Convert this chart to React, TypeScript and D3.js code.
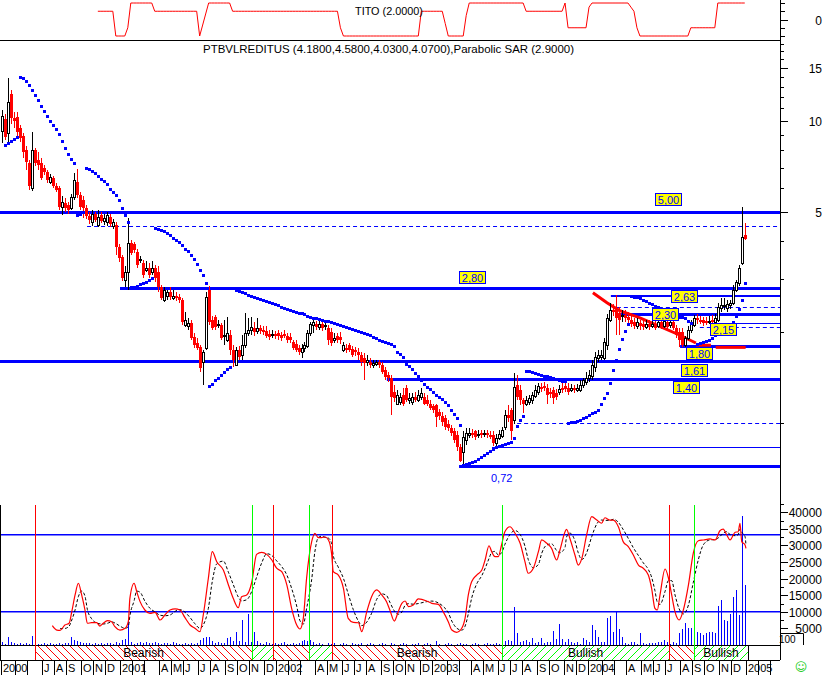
import React from 'react';
import * as d3 from 'd3';

// ---------- DATA (weekly, first bar = week of 31 Mar 2000) ----------
const opens = [
9.27,10.16,9.13,12.29,10.23,10.31,9.48,8.92,8.02,7.26,
6.01,8.02,7.43,7.26,6.99,6.78,6.28,6.48,6.10,6.01,
5.20,5.36,5.28,5.16,5.61,6.28,5.70,5.48,5.16,4.85,
4.63,4.92,4.53,4.89,4.67,4.63,4.81,4.49,4.53,3.83,
3.55,2.98,3.16,3.95,3.92,3.68,3.47,3.39,3.21,3.26,
3.16,3.26,3.16,2.81,2.55,2.64,2.72,2.60,2.64,2.62,
2.55,2.11,2.09,2.14,1.93,1.84,1.79,1.59,1.77,2.76,
2.19,2.25,2.11,2.11,1.94,1.88,1.96,1.745,1.56,1.745,
1.68,1.81,1.99,2.03,2.06,2.01,2.06,2.03,2.01,1.97,
1.96,1.97,1.99,1.96,1.97,1.94,1.93,1.86,1.83,1.77,
1.72,1.77,1.80,1.99,2.11,2.13,2.08,2.13,2.09,2.06,
2.00,1.88,1.94,1.93,1.745,1.77,1.81,1.76,1.745,1.72,
1.68,1.64,1.59,1.59,1.56,1.57,1.59,1.56,1.50,1.44,
1.41,1.27,1.16,1.17,1.24,1.31,1.19,1.17,1.22,1.19,
1.22,1.22,1.19,1.16,1.14,1.145,1.09,1.055,1.04,0.99,
0.96,0.94,0.91,0.83,0.80,0.88,0.91,0.93,0.94,0.91,
0.93,0.92,0.93,0.91,0.91,0.86,0.89,0.905,0.97,1.06,
1.10,1.02,1.34,1.29,1.19,1.16,1.17,1.19,1.23,1.27,
1.32,1.33,1.31,1.27,1.29,1.26,1.27,1.31,1.33,1.31,
1.29,1.31,1.29,1.29,1.34,1.37,1.41,1.43,1.53,1.64,
1.66,1.64,1.81,2.19,2.37,2.41,2.32,2.26,2.28,2.25,
2.19,2.16,2.09,2.14,2.13,2.08,2.13,2.09,2.13,2.09,
2.16,2.09,2.16,2.11,2.16,2.06,2.00,2.00,1.81,1.91,
2.03,2.11,2.23,2.19,2.19,2.18,2.16,2.19,2.16,2.19,
2.41,2.44,2.41,2.46,2.50,2.76,2.91,3.39,4.18];
const highs = [
10.88,10.55,13.88,12.67,10.72,10.72,9.71,9.13,8.26,7.43,
9.20,8.14,7.90,7.54,7.15,6.88,6.68,6.58,6.24,6.10,
5.65,5.57,5.40,5.74,6.73,6.95,5.82,5.65,5.28,5.00,
5.07,5.00,5.07,5.00,4.92,5.00,4.92,4.74,4.63,3.92,
3.60,3.31,4.78,4.04,3.98,3.77,3.58,3.47,3.44,3.39,
3.44,3.34,3.31,2.87,2.81,2.76,2.81,2.76,2.72,2.68,
2.60,2.33,2.23,2.19,1.99,1.91,1.81,1.745,2.72,2.85,
2.26,2.28,2.19,2.14,2.19,2.25,2.03,1.81,1.79,1.80,
1.96,2.32,2.23,2.25,2.16,2.23,2.11,2.09,2.09,2.03,
2.03,2.01,2.03,2.00,2.03,1.99,1.99,1.88,1.88,1.81,
1.83,1.86,2.03,2.16,2.23,2.18,2.19,2.18,2.19,2.11,
2.06,1.99,1.99,2.00,1.86,1.83,1.84,1.80,1.79,1.77,
1.72,1.71,1.68,1.64,1.62,1.62,1.62,1.59,1.53,1.47,
1.44,1.34,1.29,1.26,1.31,1.34,1.26,1.26,1.27,1.29,
1.31,1.26,1.24,1.19,1.16,1.16,1.11,1.09,1.06,1.02,
0.985,0.96,0.94,0.85,0.94,0.96,0.96,0.955,0.95,0.95,
0.95,0.95,0.95,0.94,0.94,0.92,0.95,0.97,1.10,1.145,
1.12,1.46,1.44,1.34,1.21,1.23,1.24,1.27,1.34,1.36,
1.36,1.37,1.35,1.31,1.32,1.30,1.34,1.39,1.36,1.36,
1.35,1.34,1.35,1.39,1.41,1.47,1.50,1.62,1.72,1.745,
1.745,1.91,2.30,2.50,2.48,2.66,2.42,2.37,2.37,2.33,
2.26,2.23,2.23,2.19,2.19,2.19,2.19,2.23,2.18,2.23,
2.21,2.25,2.23,2.28,2.23,2.11,2.06,2.06,1.94,2.09,
2.19,2.28,2.30,2.26,2.25,2.25,2.26,2.28,2.30,2.50,
2.60,2.60,2.55,2.55,2.87,2.98,3.34,5.20,4.58];
const lows = [
8.45,8.65,8.45,9.78,9.48,8.92,8.52,7.54,6.88,5.91,
5.87,7.10,6.88,6.38,6.63,6.24,6.19,6.01,5.82,5.07,
4.89,5.00,4.92,5.07,5.48,5.57,5.07,4.78,4.74,4.56,
4.49,4.63,4.46,4.60,4.53,4.49,4.46,4.39,3.60,3.42,
2.96,2.81,2.76,3.60,3.66,3.26,3.39,3.03,3.16,3.03,
3.09,2.94,2.72,2.55,2.51,2.55,2.55,2.55,2.53,2.50,
2.11,2.08,2.03,1.88,1.77,1.745,1.47,1.34,1.745,2.11,
2.03,2.03,2.06,1.88,1.81,1.86,1.68,1.53,1.54,1.62,
1.62,1.77,1.94,1.96,1.94,1.97,1.97,1.96,1.91,1.88,
1.91,1.90,1.88,1.87,1.91,1.84,1.84,1.745,1.72,1.68,
1.64,1.72,1.77,1.94,1.99,2.03,2.03,2.01,2.03,1.81,
1.80,1.84,1.84,1.83,1.72,1.71,1.72,1.66,1.67,1.62,
1.545,1.39,1.545,1.52,1.52,1.545,1.52,1.45,1.39,1.37,
1.06,1.17,1.145,1.145,1.14,1.17,1.16,1.15,1.17,1.17,
1.19,1.145,1.14,1.10,1.08,0.97,1.02,0.98,0.95,0.94,
0.905,0.86,0.81,0.74,0.72,0.845,0.89,0.89,0.88,0.89,
0.89,0.90,0.89,0.885,0.84,0.84,0.88,0.89,0.95,1.01,
0.88,0.99,1.19,1.145,1.08,1.14,1.145,1.16,1.21,1.24,
1.27,1.28,1.16,1.21,1.16,1.19,1.24,1.26,1.27,1.24,
1.27,1.26,1.27,1.27,1.31,1.34,1.37,1.39,1.47,1.59,
1.62,1.62,1.745,2.16,2.26,1.96,1.96,2.16,2.16,2.14,
2.08,2.05,2.05,2.03,2.03,2.05,2.03,2.06,2.03,2.06,
2.05,2.06,2.03,2.06,2.03,1.91,1.79,1.79,1.79,1.88,
1.99,2.08,2.13,2.13,2.09,2.11,2.13,2.14,2.13,2.16,
2.33,2.37,2.33,2.39,2.46,2.72,2.85,3.34,4.03];
const closes = [
10.39,8.86,11.56,10.23,10.00,9.20,8.79,7.90,7.32,6.10,
8.02,7.26,7.15,6.48,6.78,6.38,6.53,6.10,5.91,5.20,
5.40,5.16,5.07,5.61,6.38,5.70,5.20,5.16,4.85,4.70,
4.92,4.70,4.81,4.67,4.78,4.89,4.56,4.63,3.83,3.52,
3.03,3.16,3.95,3.66,3.74,3.34,3.50,3.09,3.26,3.09,
3.26,3.03,2.81,2.60,2.76,2.72,2.62,2.64,2.60,2.55,
2.16,2.19,2.14,1.91,1.81,1.77,1.52,1.72,2.62,2.16,
2.06,2.08,2.13,1.91,1.96,1.99,1.745,1.62,1.745,1.66,
1.81,1.99,2.03,2.08,2.00,2.06,2.01,2.00,1.94,1.93,
1.97,1.94,1.94,1.91,1.94,1.88,1.88,1.77,1.745,1.72,
1.77,1.81,1.99,2.13,2.16,2.08,2.13,2.06,2.11,1.88,
1.84,1.91,1.88,1.88,1.81,1.745,1.745,1.68,1.72,1.68,
1.59,1.58,1.62,1.56,1.58,1.59,1.56,1.47,1.42,1.41,
1.22,1.21,1.24,1.22,1.16,1.19,1.21,1.22,1.19,1.24,
1.26,1.16,1.16,1.12,1.10,1.05,1.055,1.01,0.97,0.96,
0.93,0.88,0.83,0.75,0.90,0.93,0.93,0.91,0.90,0.92,
0.91,0.93,0.91,0.905,0.86,0.89,0.92,0.95,1.06,1.04,
0.94,1.32,1.22,1.19,1.16,1.19,1.21,1.24,1.29,1.33,
1.31,1.31,1.24,1.25,1.21,1.22,1.30,1.29,1.30,1.27,
1.31,1.29,1.31,1.34,1.39,1.41,1.44,1.56,1.66,1.68,
1.68,1.86,2.23,2.37,2.33,2.23,2.19,2.28,2.23,2.19,
2.13,2.09,2.16,2.09,2.08,2.13,2.08,2.13,2.06,2.16,
2.09,2.18,2.08,2.16,2.06,1.96,1.88,1.81,1.91,2.03,
2.13,2.23,2.19,2.18,2.14,2.16,2.18,2.18,2.23,2.42,
2.46,2.45,2.48,2.50,2.76,2.94,3.26,4.13,4.07];
// Parabolic SAR as plotted, from week 1
const sarStartWeek = 1;
const sarValues = [
8.33,8.45,8.58,8.72,8.86,13.98,13.88,13.57,13.16,12.67,
12.20,11.74,11.21,10.80,10.39,10.00,9.71,9.41,9.06,8.58,
8.14,7.78,7.49,7.26,4.89,4.92,5.00,6.99,6.93,6.83,
6.73,6.58,6.43,6.33,6.19,5.96,5.82,5.70,5.48,5.16,
4.89,4.63,2.81,2.83,2.85,2.89,2.91,2.94,2.98,3.03,
4.43,4.39,4.36,4.33,4.27,4.20,4.10,4.04,3.98,3.89,
3.77,3.71,3.60,3.50,3.37,3.21,3.09,2.91,1.33,1.35,
1.39,1.41,1.44,1.47,1.51,1.53,2.79,2.76,2.74,2.72,
2.70,2.66,2.64,2.62,2.60,2.58,2.55,2.53,2.51,2.50,
2.48,2.46,2.42,2.41,2.39,2.37,2.35,2.33,2.32,2.32,
2.30,2.26,2.25,2.23,2.23,2.21,2.19,2.18,2.18,2.16,
2.14,2.13,2.11,2.09,2.08,2.06,2.05,2.03,2.01,2.00,
1.99,1.97,1.96,1.93,1.91,1.88,1.87,1.86,1.84,1.83,
1.80,1.72,1.69,1.66,1.57,1.545,1.51,1.46,1.43,1.39,
1.35,1.32,1.30,1.27,1.24,1.22,1.20,1.17,1.145,1.10,
1.07,1.04,0.985,0.726,0.73,0.737,0.743,0.748,0.76,0.77,
0.784,0.796,0.808,0.82,0.833,0.839,0.846,0.852,0.859,0.865,
0.892,0.977,1.02,1.055,1.49,1.49,1.47,1.46,1.45,1.44,
1.43,1.43,1.42,1.41,1.40,1.39,1.38,1.38,1.00,1.01,
1.01,1.015,1.02,1.04,1.05,1.06,1.08,1.09,1.10,1.155,
1.21,1.26,1.36,1.50,1.62,1.76,1.90,2.01,2.13,2.63,
2.62,2.62,2.60,2.55,2.53,2.50,2.48,2.44,2.42,2.39,
2.37,2.35,2.32,2.30,2.28,2.25,2.25,2.23,2.18,2.14,
1.80,1.83,1.84,1.86,1.87,1.88,1.91,1.96,2.01,2.08,
2.09,2.11,2.13,2.16,2.26,2.39,2.55,2.90];
const volumes = [
900,300,2400,900,600,300,600,300,600,300,
2700,600,300,300,600,300,600,300,300,600,
300,600,600,2400,1500,1200,900,600,600,600,
300,600,300,600,300,600,600,300,900,600,
1500,1800,7500,900,300,600,900,600,900,600,
600,900,600,300,600,600,300,900,600,300,
300,600,300,600,300,600,1500,2100,2400,2400,
1200,600,900,600,600,2100,2400,1200,3900,1200,
7500,900,9300,900,3900,1200,600,300,900,600,
300,600,300,600,900,300,300,600,300,600,
1200,1500,1200,1500,900,300,600,300,0,600,
300,600,0,300,600,300,0,600,300,300,
600,0,300,600,300,0,300,600,300,0,
600,300,0,300,600,300,0,300,300,600,
0,300,600,300,0,1200,300,0,300,600,
300,0,300,600,300,300,0,300,600,300,
0,300,600,300,300,600,300,1200,1200,1500,
1200,11400,3600,900,1200,1500,900,2100,600,900,
2100,600,900,900,4200,1800,6300,1800,900,1800,
900,600,900,300,2100,1500,900,6000,4500,2400,
900,900,8100,8700,3900,10200,4800,2400,600,300,
900,900,300,3600,600,300,600,600,600,900,
900,1500,900,300,900,600,3600,4800,6600,5100,
5100,5100,3900,3600,3000,3600,3900,3900,3600,11700,
13500,7500,7200,9300,14400,16500,9000,38800,18000];

// TITO indicator, run-length (first week 32)
const titoStartWeek = 32;
const titoRunValues = [1,-2,-1,2,1,-2,-0.67,0.67,2,1,-1,-2,1,-0.5,-2,0.5,2,1,2,-1,1.5,2,1.5,1,-1,-2,-1,2];
const titoRunLengths = [6,4,1,8,15,1,1,1,8,36,1,26,8,1,6,1,19,13,1,7,1,13,1,1,1,17,9,10];

// oscillator (%K) sampled along the weeks
const oscWeeks = [16.8,18.3,19.4,21.0,22.4,23.3,24.4,25.5,26.6,27.7,28.5,29.9,31.6,32.7,33.8,35.2,36.6,37.7,39.4,41.1,42.2,42.7,44.1,45.0,46.1,47.7,49.4,51.1,52.8,54.4,56.1,57.8,59.4,61.1,62.8,64.4,66.1,67.2,68.9,70.2,71.7,73.9,75.6,77.2,78.9,80.0,81.7,83.4,85.0,86.7,88.4,90.1,91.7,93.4,95.1,96.7,98.4,99.5,100.6,101.7,103.4,104.5,105.6,106.7,107.8,109.0,110.1,110.6,112.3,114.0,115.6,117.3,119.0,120.1,121.8,123.4,125.1,126.8,128.4,129.5,131.0,132.3,133.5,134.6,135.7,137.3,139.0,141.8,143.5,145.7,147.3,149.0,150.2,151.8,153.5,154.6,155.7,156.8,158.5,160.2,161.3,162.6,163.5,164.6,165.7,166.8,167.9,169.6,171.3,173.0,174.6,175.7,177.4,179.1,180.2,181.9,183.5,185.2,186.3,188.0,188.5,189.6,191.3,192.4,193.6,195.2,196.9,198.6,200.2,201.3,203.0,204.1,205.8,207.4,209.1,210.8,212.5,214.1,215.8,216.9,218.0,218.8,219.7,221.4,222.5,223.6,224.7,226.1,227.5,229.2,230.8,232.5,234.2,236.4,238.1,239.7,240.8,242.0,243.1,244.8,245.8,246.4,247.0,248.1,248.4];
const oscValues = [9.2,5.8,5.6,9.7,11.1,20.1,33.1,42.2,33.1,21.4,11.1,11.5,11.5,8.9,11.1,13.1,12.3,8.4,5.8,7.2,12.8,30.5,42.2,35.6,27.9,21.4,18.8,19.6,13.6,17.5,21.4,22.2,21.4,15.4,9.7,7.2,4.5,17.5,46.1,66.8,59.0,52.5,40.9,30.5,23.2,31.8,33.1,43.0,64.7,66.3,64.7,60.3,53.9,51.2,40.9,22.7,9.7,6.6,14.9,46.1,74.6,81.1,77.7,77.7,78.4,75.9,64.2,51.2,48.6,38.3,14.9,11.8,11.5,4.5,20.1,31.8,37.0,33.1,27.9,21.4,12.8,20.1,26.6,28.4,24.0,25.3,30.0,28.4,26.6,25.8,20.1,12.3,5.8,4.0,7.2,14.9,33.1,43.4,48.6,52.5,60.3,71.4,66.8,62.9,62.9,72.0,82.3,86.2,81.1,73.3,59.0,50.0,53.9,66.8,75.9,73.3,69.4,60.3,68.1,82.3,84.2,77.2,64.2,56.4,61.6,79.8,94.0,91.4,88.9,93.2,91.4,91.4,86.2,74.6,70.7,64.2,56.4,53.9,48.6,38.3,22.7,21.4,33.1,53.3,46.5,33.1,20.1,13.6,21.4,40.9,65.5,75.3,75.9,76.7,75.9,83.1,84.4,79.8,75.9,81.9,82.3,88.9,74.6,72.0,69.4];
const oscLevels = [80, 20];

// support / resistance levels
const levelValues = [5.00, 4.49, 2.80, 2.63, 2.42, 2.30, 2.15, 2.08, 1.80, 1.61, 1.40, 1.00, 0.83, 0.72];
const levelFromWeek = [-1, 28.4, 39.4, 203.3, 205.3, 204.7, 236.4, 233, 226.4, -1, 128.5, 172, 163.6, 152.6];
const levelKinds = ['thick','dash','thick','medium','dash','thick','thin','dash','thick','thick','thick','dash','thin','thick'];
const levelLabels = ['5,00','','2,80','2,63','','2,30','2,15','','1,80','1,61','1,40','','','0,72'];

// red trend line
const trendWeeks = [197.3, 202, 206, 213, 220, 226, 231.7];
const trendValues = [2.70, 2.50, 2.36, 2.23, 2.08, 1.96, 1.84];
const redStopWeeks = [[231.7, 236.7], [238.3, 248.3]];
const redStopValues = [1.81, 1.78];

// signals (band)
const signalWeeks = [11.0, 83.5, 90.5, 102.5, 110.2, 167.0, 222.7, 231.0];
const signalTypes = ['sell','buy','sell','buy','sell','buy','sell','buy'];
const signalEndWeek = 249.1;

const monthLetters = ['J','F','M','A','M','J','J','A','S','O','N','D'];
const titleText = 'PTBVLREDITUS (4.1800,4.5800,4.0300,4.0700),Parabolic SAR (2.9000)';
const titoText = 'TITO (2.0000)';

const FONT = 'Liberation Sans, Arial, Helvetica, sans-serif';
const RED = '#ff0000', BLUE = '#0000ff', GREEN = '#00ff00';
const AXIS_X = 780;

export default function App() {
  const x = d3.scaleLinear().domain([0, 1]).range([2, 2 + 2.995]);
  const yP = d3.scaleLog().domain([1, 10]).range([423, 121]);
  const yT = d3.scaleLinear().domain([-2, 2]).range([36, 3]);
  const yV = d3.scaleLinear().domain([0, 40000]).range([645, 512.2]);
  const yO = d3.scaleLinear().domain([0, 100]).range([637.5, 509]);

  const tito: [number, number][] = [];
  let w = titoStartWeek;
  titoRunValues.forEach((v, k) => { for (let j = 0; j < titoRunLengths[k]; j++) tito.push([w++, v]); });
  const titoLine = d3.line<[number, number]>().x(d => x(d[0])).y(d => yT(d[1]));

  const osc = oscWeeks.map((wk, k) => [wk, oscValues[k]] as [number, number]);
  const oscD: [number, number][] = [];
  for (let k = 2; k < osc.length; k++) oscD.push([osc[k][0], (osc[k][1] + osc[k - 1][1] + osc[k - 2][1]) / 3]);
  const oscLine = d3.line<[number, number]>().x(d => x(d[0])).y(d => yO(d[1])).curve(d3.curveMonotoneX);

  const trendLine = d3.line<number>().x((d, k) => x(trendWeeks[k])).y(d => yP(d));

  const date0 = new Date(2000, 2, 31).getTime();
  const ticks: { x: number; label: string }[] = [];
  let first = true;
  for (let yy = 2000; yy <= 2005; yy++) {
    for (let m = 0; m < 12; m++) {
      if (yy === 2000 && m < 3) continue;
      if (yy === 2005 && m > 2) break;
      const wk = Math.ceil((new Date(yy, m, 1).getTime() - date0) / (7 * 864e5));
      let tx = x(wk) - 1.5;
      let label = '';
      if (first) { tx = 1; label = '2000'; first = false; }
      else if (m === 0) label = String(yy);
      else if (m === 1 || m === 2) label = '';
      else if (yy === 2000 && m < 6) label = '';
      else label = monthLetters[m];
      ticks.push({ x: Math.round(tx) + 0.5, label });
    }
  }

  const segs = signalWeeks.map((s, k) => ({
    x0: x(s), x1: x(k + 1 < signalWeeks.length ? signalWeeks[k + 1] : signalEndWeek), type: signalTypes[k],
  }));

  const priceTicks = d3.range(1, 19);
  const volTicks = d3.range(2500, 42501, 2500);

  return (
    <svg width={827} height={675} style={{ position: 'absolute', left: 0, top: 0, background: '#fff' }} fontFamily={FONT}>
      <defs>
        <pattern id="hatchRed" patternUnits="userSpaceOnUse" width="8" height="8">
          <path d="M-2,-2 L10,10 M-10,-2 L2,10 M6,-2 L18,10" stroke={RED} strokeWidth="1" />
        </pattern>
        <pattern id="hatchGreen" patternUnits="userSpaceOnUse" width="8" height="8">
          <path d="M-2,10 L10,-2 M-10,10 L2,-2 M6,10 L18,-2" stroke={GREEN} strokeWidth="1" />
        </pattern>
        <clipPath id="clipMain"><rect x="0" y="41" width={AXIS_X} height="464" /></clipPath>
        <clipPath id="clipLow"><rect x="0" y="505" width={AXIS_X} height="140" /></clipPath>
        <clipPath id="clipTop"><rect x="0" y="0" width={AXIS_X} height="40" /></clipPath>
      </defs>
      <rect x="0" y="0" width="827" height="675" fill="#fff" />

      {/* ---- TITO panel ---- */}
      <g clipPath="url(#clipTop)">
        <path d={titoLine(tito) || ''} fill="none" stroke={RED} strokeWidth="1" />
      </g>
      <text x="355" y="15" fontSize="11" textLength="68" lengthAdjust="spacingAndGlyphs">{titoText}</text>
      <line x1="0" x2={AXIS_X} y1="40.5" y2="40.5" stroke="#000" />
      {[-2, -1, 0, 1, 2].map(v => (
        <line key={'tt' + v} x1={AXIS_X} x2={v === 0 ? AXIS_X + 8 : AXIS_X + 5} y1={Math.round(yT(v)) + 0.5} y2={Math.round(yT(v)) + 0.5} stroke="#000" />
      ))}
      <text x="822" y={yT(0) + 5} fontSize="12" textAnchor="end">0</text>

      {/* ---- main price panel ---- */}
      <text x="203" y="53" fontSize="11" textLength="371" lengthAdjust="spacingAndGlyphs">{titleText}</text>
      <g clipPath="url(#clipMain)">
        {levelValues.map((v, k) => {
          const yy = Math.round(yP(v));
          const kind = levelKinds[k];
          const sw = kind === 'thick' ? 3 : kind === 'medium' ? 2 : 1;
          const x0 = levelFromWeek[k] < 0 ? 0 : x(levelFromWeek[k]);
          return <line key={'lv' + k} x1={x0} x2={AXIS_X} y1={sw % 2 ? yy + 0.5 : yy} y2={sw % 2 ? yy + 0.5 : yy}
            stroke={BLUE} strokeWidth={sw} strokeDasharray={kind === 'dash' ? '4,3' : undefined} />;
        })}
        <path d={trendLine(trendValues) || ''} fill="none" stroke={RED} strokeWidth="3" />
        {redStopWeeks.map((r, k) => (
          <line key={'rs' + k} x1={x(r[0])} x2={x(r[1])} y1={yP(redStopValues[k])} y2={yP(redStopValues[k])} stroke={RED} strokeWidth="3" />
        ))}
        {closes.map((c, i) => {
          const o = opens[i];
          const up = c >= o;
          const cx = Math.round(x(i));
          const top = Math.round(yP(Math.max(o, c)));
          const bot = Math.round(yP(Math.min(o, c)));
          const col = up ? '#000' : RED;
          return (
            <g key={'c' + i} shapeRendering="crispEdges">
              <line x1={cx + 0.5} x2={cx + 0.5} y1={Math.round(yP(highs[i]))} y2={Math.round(yP(lows[i]))} stroke={col} strokeWidth="1" />
              {up
                ? <rect x={cx - 0.5} y={top + 0.5} width={2} height={Math.max(1, bot - top)} fill="#fff" stroke="#000" strokeWidth="1" />
                : <rect x={cx - 1} y={top} width={3} height={Math.max(2, bot - top)} fill={RED} />}
            </g>
          );
        })}
        {sarValues.map((s, k) => (
          <rect key={'s' + k} x={Math.round(x(k + sarStartWeek)) - 1} y={Math.round(yP(s)) - 1} width={3} height={3} fill={BLUE} />
        ))}
      </g>
      {levelLabels.map((lab, k) => {
        if (!lab) return null;
        const yy = yP(levelValues[k]);
        const boxX = [655, 0, 459, 671, 0, 652, 710, 0, 686, 681, 673, 0, 0, 491][k];
        const boxDy = [-19, 0, -17, -6, 0, -6, 0, 0, 1, 3, 2, 0, 0, 6][k];
        if (lab === '0,72') {
          return <text key={'lb' + k} x={boxX} y={yy + boxDy + 10} fontSize="11" fill={BLUE}>{lab}</text>;
        }
        const by = Math.round(yy + boxDy) + 0.5;
        return (
          <g key={'lb' + k}>
            <rect x={boxX + 0.5} y={by} width={26} height={12} fill="#ffff00" stroke={BLUE} strokeWidth="1" />
            <text x={boxX + 13.5} y={by + 10} fontSize="11" fill={BLUE} textAnchor="middle">{lab}</text>
          </g>
        );
      })}

      {/* ---- lower panel ---- */}
      <g clipPath="url(#clipLow)">
        {volumes.map((v, i) => v > 0 ? (
          <line key={'v' + i} x1={Math.round(x(i)) + 0.5} x2={Math.round(x(i)) + 0.5} y1={645} y2={Math.round(yV(v))} stroke={BLUE} strokeWidth="1" />
        ) : null)}
        {oscLevels.map(l => (
          <line key={'ol' + l} x1="0" x2={AXIS_X} y1={yO(l)} y2={yO(l)} stroke={BLUE} strokeWidth="1.6" />
        ))}
        <path d={oscLine(oscD) || ''} fill="none" stroke="#000" strokeWidth="1" strokeDasharray="3,2" />
        <path d={oscLine(osc) || ''} fill="none" stroke={RED} strokeWidth="1.2" />
      </g>
      <line x1="0.5" x2="0.5" y1="505" y2="660" stroke="#000" />

      {segs.map((s, k) => (
        <rect key={'bd' + k} x={s.x0} y={645} width={s.x1 - s.x0} height={15} fill={s.type === 'sell' ? 'url(#hatchRed)' : 'url(#hatchGreen)'} />
      ))}
      {segs.map((s, k) => (s.x1 - s.x0 > 40 ? (
        <text key={'bt' + k} x={(s.x0 + s.x1) / 2} y={657} fontSize="12" textAnchor="middle">{s.type === 'sell' ? 'Bearish' : 'Bullish'}</text>
      ) : null))}
      <line x1="0" x2={AXIS_X} y1="645.5" y2="645.5" stroke="#000" />
      <line x1="0" x2={AXIS_X} y1="660.5" y2="660.5" stroke="#000" />
      <line x1={Math.round(x(signalEndWeek)) + 0.5} x2={Math.round(x(signalEndWeek)) + 0.5} y1="645" y2="660" stroke="#000" />
      {signalWeeks.map((s, k) => (
        <line key={'sv' + k} x1={Math.round(x(s)) + 0.5} x2={Math.round(x(s)) + 0.5} y1="505" y2="660" stroke={signalTypes[k] === 'sell' ? RED : GREEN} strokeWidth="1" shapeRendering="crispEdges" />
      ))}

      {ticks.map((t, k) => (
        <g key={'mt' + k}>
          <line x1={t.x} x2={t.x} y1="660" y2="675" stroke="#000" />
          {t.label ? <text x={t.x + 1.5} y="672" fontSize="11">{t.label}</text> : null}
        </g>
      ))}

      <line x1={AXIS_X + 0.5} x2={AXIS_X + 0.5} y1="0" y2="660" stroke="#000" />
      {priceTicks.map(v => {
        const yy = Math.round(yP(v)) + 0.5;
        if (yy < 41 || yy > 505) return null;
        const major = v % 5 === 0;
        return (
          <g key={'pt' + v}>
            <line x1={AXIS_X} x2={AXIS_X + (major ? 8 : 4)} y1={yy} y2={yy} stroke="#000" />
            {major ? <text x="822" y={yy + 4} fontSize="12" textAnchor="end">{v}</text> : null}
          </g>
        );
      })}
      {volTicks.map(v => {
        const yy = Math.round(yV(v)) + 0.5;
        const major = v % 5000 === 0;
        return (
          <g key={'vt' + v}>
            <line x1={AXIS_X} x2={AXIS_X + (major ? 8 : 4)} y1={yy} y2={yy} stroke="#000" />
            {major && v <= 40000 ? <text x="822" y={yy + 4} fontSize="12" textAnchor="end">{v}</text> : null}
          </g>
        );
      })}
      <rect x="781" y="633.5" width="22" height="12" fill="#fff" />
      <path d="M780,633.5 H803.5 V645" fill="none" stroke="#000" />
      <text x="779" y="643" fontSize="10">100</text>
      <text x="801" y="671" fontSize="12" fill="#22cc22" textAnchor="middle" fontFamily="DejaVu Sans">☺</text>
    </svg>
  );
}
